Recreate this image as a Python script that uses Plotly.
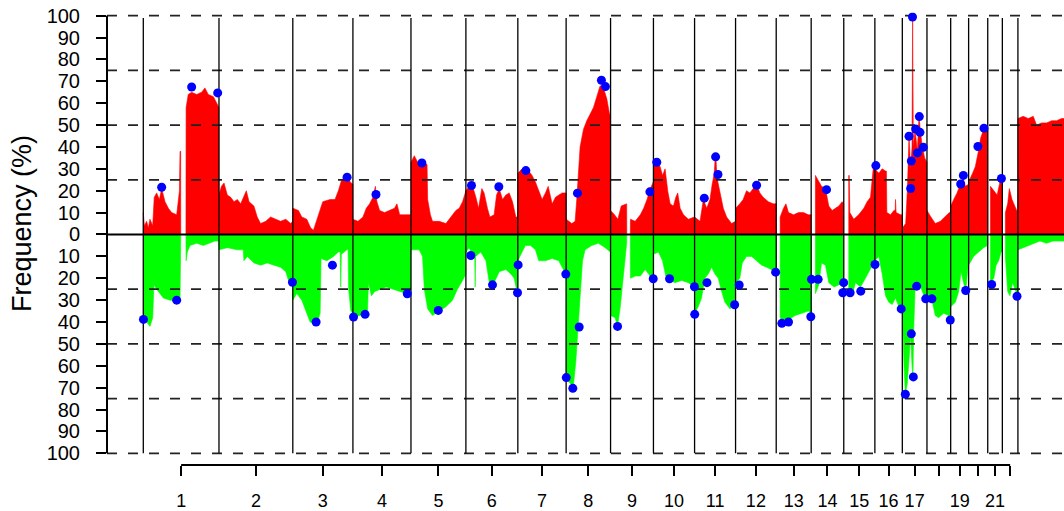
import plotly.graph_objects as go

# ---------------- data ----------------
chrom_labels = ["1", "2", "3", "4", "5", "6", "7", "8", "9", "10", "11", "12",
                "13", "14", "15", "16", "17", "18", "19", "20", "21", "22", "X"]
chrom_lengths = [249.3, 243.2, 198.0, 191.2, 180.9, 171.1, 159.1, 146.4, 141.2,
                 135.5, 135.0, 133.9, 115.2, 107.3, 102.5, 90.4, 81.2, 78.1,
                 59.1, 63.0, 48.1, 51.3, 155.3]
axis_tick_labels = ["1", "2", "3", "4", "5", "6", "7", "8", "9", "10", "11", "12",
                    "13", "14", "15", "16", "17", "", "19", "", "21", ""]

# gain frequency (%) per chromosome: (position Mb, value)
gain_profile = [
    [(0, 10), (3.5, 4), (11, 6), (16.6, 3), (22, 7), (31, 4), (36, 17), (44, 19), (53, 16), (60.5, 21),
     (71.5, 15), (82.5, 12), (93.5, 10), (110, 9), (119, 20), (121, 38), (123, 38), (123.5, 0),
     (140.5, 0), (141, 58), (148, 64), (159, 65), (176, 64), (192, 65), (203, 67), (214, 64),
     (231, 63), (242, 60), (249, 58)],
    [(0, 18), (8, 22), (16.6, 23.5), (27.5, 18), (38.5, 17), (49.5, 15), (60.5, 16), (71.5, 14),
     (90, 20), (99, 15), (115, 13), (126, 8), (137, 5), (154, 6), (170, 8), (187, 7), (203, 6),
     (220, 7), (236, 5), (243, 6)],
    [(0, 12), (18.5, 11), (29.5, 8), (46, 7), (59, 3), (68, 2), (79, 7), (90, 12), (98.7, 15),
     (123, 16), (139, 16), (150, 20), (161, 25), (178, 27), (189, 24), (198, 23)],
    [(0, 7), (16.6, 6), (33, 8), (44, 12), (55, 14), (66, 17), (72, 22), (74, 22), (79, 15),
     (88, 11), (104, 10), (121, 11), (137, 12), (145, 14), (154, 9), (170, 9), (191, 9)],
    [(0, 33), (11, 36), (22, 33), (38, 33), (49, 32), (53, 32), (55, 16), (64, 9), (71, 6),
     (93, 6), (115, 5), (131.6, 8), (148, 11), (159, 12), (170, 15), (181, 20)],
    [(0, 20), (11, 22), (22, 22), (33, 17), (41.6, 12), (52.5, 21), (60, 19), (71, 12), (79, 8),
     (93, 9), (101, 18), (110, 21), (120.6, 16), (131.6, 18), (142.6, 19), (153.6, 15),
     (164.5, 8), (171, 8)],
    [(0, 28), (14, 30), (30.8, 30), (47, 27), (58, 24), (69, 20), (80, 16), (91, 19), (100, 22),
     (113, 14), (124, 17), (135, 18), (146, 19), (159, 19)],
    [(0, 7), (18.6, 5), (29.6, 6), (35, 16), (40.6, 30), (46, 40), (57, 48), (68, 52), (79, 55),
     (90, 58), (101, 63), (112, 68), (123, 67), (134, 62), (143, 55), (146, 55)],
    [(0, 11), (13, 9), (24, 7), (35, 13), (48, 14), (53, 14), (53.5, 0), (65, 0), (65.5, 7),
     (81, 6), (98, 9), (109, 12), (120, 16), (131, 21), (141, 24)],
    [(0, 35), (11, 33), (22, 31), (30, 27), (38.4, 30), (47, 20), (55, 14), (66, 13), (73.6, 17),
     (80, 19), (88, 12), (99, 9), (115, 7), (135, 8)],
    [(0, 8), (18, 6), (29, 16), (40, 12), (50.7, 16), (58, 23), (65, 28), (68, 36), (70, 36),
     (73.7, 26), (83.6, 20), (94.6, 12), (105.6, 8), (122, 5), (135, 6)],
    [(0, 12), (14, 14), (25, 16), (36, 20), (47, 19), (58.3, 21), (69, 23), (80, 19), (91, 17),
     (108, 15), (124, 14), (134, 14)],
    [(13, 8), (24, 12), (32, 14), (40.5, 10), (57, 9), (73.5, 10), (90, 10), (106, 9), (115, 9)],
    [(14, 27), (23, 25), (34, 22), (47, 21), (58, 13), (69, 11), (80, 12), (91, 13), (102, 15),
     (107, 14)],
    [(16.5, 27), (18, 27), (20, 10), (33, 7), (49, 9), (66, 12), (77, 15), (88, 17), (97, 30),
     (102, 30)],
    [(0, 30), (13, 28), (24, 30), (35, 29), (38, 29), (39.5, 10), (51.6, 9), (62.6, 11), (67, 11),
     (68, 16), (70, 10), (84.6, 9), (90, 9)],
    [(0, 3), (11, 5), (16.5, 20), (22, 45), (27.5, 30), (32, 40), (33, 100), (34, 100),
     (36.3, 40), (42, 48), (49.5, 38), (55, 54), (60.5, 46), (66, 40), (73.6, 35), (81, 33)],
    [(0, 11), (13, 8), (27.4, 5), (44, 6), (60.3, 8), (73.5, 10), (78, 10)],
    [(0, 13), (10, 16), (21, 19), (32, 23), (40.7, 26), (48.4, 22), (59, 23)],
    [(0, 24), (13, 28), (22, 31), (30.7, 37), (39.5, 44), (49.4, 48), (63, 48)],
    [(9, 22), (20, 20), (31, 18), (38.5, 23), (44, 26), (48, 26)],
    [(10, 10), (17.5, 14), (23, 21), (31.8, 16), (39.5, 13), (47.2, 11), (51, 11)],
    [(0, 53), (17.5, 54), (34, 53), (50.5, 54), (61.5, 50), (78, 51), (94.4, 51), (111, 52),
     (127, 52), (144, 53), (155, 53)],
]

# loss frequency (%) per chromosome: (position Mb, value)
loss_profile = [
    [(0, 39), (11, 40), (22, 42), (31, 38), (33, 24), (35, 23), (44, 25), (55, 27), (66, 29),
     (88, 30), (121, 30), (123.5, 0), (140.5, 0), (141, 12), (145, 8), (154, 5), (176, 4),
     (198, 5), (220, 4), (236, 3), (249, 3)],
    [(0, 7), (28, 6), (60, 7), (80, 7), (82, 12), (93, 10), (115, 13), (137, 14), (159, 13),
     (181, 14), (203, 15), (220, 17), (231, 22), (243, 22)],
    [(0, 30), (13, 27), (29.5, 30), (46, 36), (57, 40), (79, 41), (90, 36), (93, 11), (112, 12),
     (134, 10), (150, 8), (156, 8), (158, 24), (160, 9), (178, 7), (182, 7), (184, 25),
     (191, 35), (198, 36)],
    [(0, 38), (22, 37), (44, 36), (48, 36), (51, 22), (61, 28), (72, 26), (88, 25), (110, 24),
     (132, 25), (154, 26), (176, 27), (191, 25)],
    [(0, 7), (27, 7), (38, 10), (44, 25), (55, 34), (71, 37), (93, 35), (115, 33), (137, 30),
     (153, 25), (170, 21), (181, 18)],
    [(0, 8), (11, 6), (22, 10), (29, 10), (30.6, 24), (32, 10), (49, 8), (66, 12), (77, 22),
     (93, 22), (110, 17), (131.6, 16), (148, 18), (159, 20), (168, 26), (171, 26)],
    [(0, 12), (14, 8), (25, 5), (42, 5), (58, 7), (69, 12), (91, 12), (113, 11), (135, 12),
     (146, 15), (159, 18)],
    [(0, 66), (13, 68), (24, 69), (32, 58), (38, 44), (46, 25), (54, 12), (62.5, 7), (84.5, 5),
     (106.5, 4), (128.5, 6), (146, 8)],
    [(0, 37), (15, 38), (23, 42), (32, 33), (40, 22), (48, 10), (53, 4), (53.5, 0), (65, 0),
     (65.5, 20), (81, 19), (98, 19), (114, 16), (125, 18), (136, 20), (141, 20)],
    [(0, 9), (16.5, 8), (30, 12), (40.6, 19), (55, 21), (71, 22), (93, 21), (115, 22), (135, 24)],
    [(0, 36), (12, 33), (23, 29), (34, 20), (45, 18), (56, 15), (67, 18), (78, 20), (89, 26),
     (100, 31), (117, 34), (131, 30), (135, 28)],
    [(0, 22), (14, 20), (22, 13), (36, 10), (53, 10), (69, 12), (86, 14), (102, 15), (119, 16),
     (134, 17)],
    [(13, 38), (24, 40), (40.5, 39), (62.5, 37), (84.5, 36), (106, 35), (115, 36)],
    [(14, 27), (25, 23), (34, 13), (47, 14), (58, 22), (75, 24), (91, 23), (104, 22), (107, 22)],
    [(16.5, 27), (27.5, 28), (38.5, 22), (55, 24), (71.4, 20), (82, 17), (93, 14), (102, 12)],
    [(0, 12), (13, 10), (24, 18), (35, 28), (46, 31), (57, 32), (68, 29), (79, 33), (90, 34)],
    [(0, 35), (5.5, 60), (10, 73), (16.5, 68), (22, 55), (27.5, 46), (32, 60), (33.5, 65),
     (35, 65), (37.4, 44), (42, 25), (49.5, 22), (60.5, 24), (71.4, 28), (81, 29)],
    [(0, 29), (16.4, 30), (27.4, 37), (38.3, 38), (55, 36), (71.3, 37), (78, 38)],
    [(0, 33), (15.5, 31), (26.4, 26), (34, 17), (43, 22), (49.5, 26), (55, 18), (59, 12)],
    [(0, 14), (16.4, 10), (33, 8), (49.4, 6), (63, 5)],
    [(9, 22), (20, 20), (27.5, 14), (36, 12), (44, 8), (48, 8)],
    [(10, 10), (17.5, 26), (25, 28), (34, 22), (43, 25), (47, 27), (51, 27)],
    [(0, 7), (17.5, 6), (34, 5), (50.5, 4), (72.4, 3), (94, 4), (116, 3), (138, 3), (155, 3)],
]

# peak markers: (chromosome, position Mb, frequency %)
gain_peaks = [
    ("1", 60.5, 21.6), ("1", 159.3, 67.4), ("1", 245, 64.7), ("3", 178.8, 26.2), ("4", 76, 18.3),
    ("5", 36, 32.7), ("6", 18.5, 22.4), ("6", 108.5, 21.8), ("7", 26.4, 29.2), ("8", 37.3, 18.9),
    ("8", 116.3, 70.5), ("8", 129.5, 67.6), ("9", 129.5, 19.5), ("10", 11, 33), ("11", 32, 16.6),
    ("11", 69.3, 35.5), ("11", 77, 27.4), ("12", 69.3, 22.5), ("14", 50.6, 20.5), ("16", 3.3, 31.5),
    ("17", 22, 44.9), ("17", 27.5, 21), ("17", 29.7, 33.6), ("17", 33.5, 99.4), ("17", 44, 48.2),
    ("17", 49.5, 37.3), ("17", 56, 53.9), ("17", 58.2, 46.7), ("17", 69.2, 39.9),
    ("19", 33, 23.1), ("19", 41.8, 27), ("20", 30.7, 40.2), ("20", 50.5, 48.6), ("21", 45, 25.6),
]
loss_peaks = [
    ("1", 0.5, 38.8), ("1", 110, 30), ("2", 242, 21.8), ("3", 76.7, 40), ("3", 130.5, 14),
    ("4", 2, 37.7), ("4", 40, 36.5), ("4", 179, 27.1), ("5", 90, 34.7), ("6", 16.3, 9.6),
    ("6", 87.7, 23), ("6", 170, 26.6), ("7", 1, 13.9), ("7", 158, 18.1), ("8", 0.5, 65.4),
    ("8", 22, 70.3), ("8", 43, 42.3), ("9", 23, 42), ("9", 140.5, 20.2), ("10", 53, 20.2),
    ("10", 135, 23.9), ("11", 0.5, 36.5), ("11", 40.8, 22), ("11", 132, 32.1), ("12", 12, 23.1),
    ("12", 132, 17.2), ("13", 18.6, 40.6), ("13", 40.5, 40), ("13", 114, 37.6), ("14", 1, 20.5),
    ("14", 23, 20.5), ("14", 104, 26.6), ("14", 107, 22), ("15", 21, 26.6), ("15", 56, 25.9),
    ("16", 0.5, 13.7), ("16", 86.8, 34), ("17", 10, 73), ("17", 29.7, 45.4), ("17", 36.3, 65.1),
    ("17", 47.3, 23.6), ("17", 77, 29.4), ("18", 16.4, 29.4), ("18", 76.8, 39.1),
    ("19", 49.5, 25.6), ("21", 13, 22.8), ("22", 48.3, 28.2),
]

# ---------------- geometry helpers ----------------
chrom_start = {}
acc = 0.0
for lab, ln in zip(chrom_labels, chrom_lengths):
    chrom_start[lab] = acc
    acc += ln
mids = [chrom_start[l] + ln / 2 for l, ln in zip(chrom_labels[:22], chrom_lengths[:22])]

W, H = 1064, 511
MB_PER_PX = 3.294
X_MIN = -(143.3 - 107) * MB_PER_PX
X_MAX = (W - 143.3) * MB_PER_PX


def build(profile, sign):
    xs, ys = [], []
    for lab, seg in zip(chrom_labels, profile):
        s = chrom_start[lab]
        xs.append(s + seg[0][0]); ys.append(0)
        for p, v in seg:
            xs.append(s + p); ys.append(sign * v)
        xs.append(s + seg[-1][0]); ys.append(0)
    return xs, ys


gx, gy = build(gain_profile, 1)
lx, ly = build(loss_profile, -1)

fig = go.Figure()
fig.add_trace(go.Scatter(x=gx, y=gy, mode="lines", fill="tozeroy", fillcolor="#FF0000",
                         line=dict(color="#FF0000", width=0.6), hoverinfo="skip"))
fig.add_trace(go.Scatter(x=lx, y=ly, mode="lines", fill="tozeroy", fillcolor="#00FF00",
                         line=dict(color="#00FF00", width=0.6), hoverinfo="skip"))

# dashed reference lines
dx, dy = [], []
for lvl in [25, 50, 75, 100, -25, -50, -75, -100]:
    dx += [X_MIN, X_MAX, None]
    dy += [lvl, lvl, None]
fig.add_trace(go.Scatter(x=dx, y=dy, mode="lines",
                         line=dict(color="#222222", width=1.8, dash="10px,11px"), hoverinfo="skip"))

# chromosome boundary lines
vx, vy = [], []
for lab in chrom_labels:
    vx += [chrom_start[lab], chrom_start[lab], None]
    vy += [-100, 99, None]
fig.add_trace(go.Scatter(x=vx, y=vy, mode="lines", line=dict(color="black", width=1.3),
                         hoverinfo="skip"))

# zero line
fig.add_trace(go.Scatter(x=[X_MIN, X_MAX], y=[0, 0], mode="lines",
                         line=dict(color="black", width=2), hoverinfo="skip"))

# peak markers
px_, py_ = [], []
for lab, p, v in gain_peaks:
    px_.append(chrom_start[lab] + p); py_.append(v)
for lab, p, v in loss_peaks:
    px_.append(chrom_start[lab] + p); py_.append(-v)
fig.add_trace(go.Scatter(x=px_, y=py_, mode="markers",
                         marker=dict(color="#0000FF", size=9, line=dict(width=0)), hoverinfo="skip"))

# bottom chromosome axis line (first to last tick)
fig.add_shape(type="line", xref="x", yref="paper", x0=mids[0], x1=mids[-1],
              y0=(H - 465) / H, y1=(H - 465) / H, line=dict(color="black", width=2))
# left axis line
fig.add_shape(type="line", xref="x domain", yref="y", x0=0, x1=0, y0=-100, y1=100,
              line=dict(color="black", width=2))

FONT = "Liberation Sans, Arial, Helvetica, sans-serif"
YR = 101.5
px_per_unit = (453.3 - 15.7) / 200
top_px = 15.7 - (YR - 100) * px_per_unit
bot_px = 453.3 + (YR - 100) * px_per_unit

yticks = list(range(-100, 101, 10))
fig.update_layout(
    width=W, height=H,
    margin=dict(l=0, r=0, t=0, b=0, pad=0, autoexpand=False),
    paper_bgcolor="white", plot_bgcolor="white",
    showlegend=False,
    font=dict(family=FONT, color="black", size=20),
    xaxis=dict(domain=[107 / W, 1], range=[X_MIN, X_MAX], visible=False, fixedrange=True,
               automargin=False),
    xaxis2=dict(domain=[107 / W, 1], range=[X_MIN, X_MAX], overlaying="x", anchor="free",
                position=(H - 465) / H, side="bottom", tickmode="array", tickvals=mids,
                ticktext=axis_tick_labels, ticks="outside", ticklen=10, tickwidth=2,
                tickcolor="black", showline=False, showgrid=False, zeroline=False,
                automargin=False,
                tickfont=dict(family=FONT, size=18, color="black"), ticklabelstandoff=9),
    yaxis=dict(domain=[(H - bot_px) / H, (H - top_px) / H], range=[-YR, YR],
               tickmode="array", tickvals=yticks, ticktext=[str(abs(v)) for v in yticks],
               ticks="outside", ticklen=10, tickwidth=2, tickcolor="black",
               showline=False, showgrid=False, zeroline=False, automargin=False,
               tickfont=dict(family=FONT, size=20, color="black"), ticklabelstandoff=12),
    annotations=[dict(text="Frequency (%)", xref="paper", yref="paper", x=22 / W,
                      y=(H - 224) / H, xanchor="center", yanchor="middle", textangle=-90,
                      showarrow=False, font=dict(family=FONT, size=27, color="black"))],
)

# dummy trace to activate xaxis2
fig.add_trace(go.Scatter(x=[X_MIN], y=[0], xaxis="x2", yaxis="y", mode="markers",
                         marker=dict(opacity=0), hoverinfo="skip"))

fig.write_html("out.html", config={"displayModeBar": False},
               post_script="document.body.style.margin='0';document.body.style.overflow='hidden';")
